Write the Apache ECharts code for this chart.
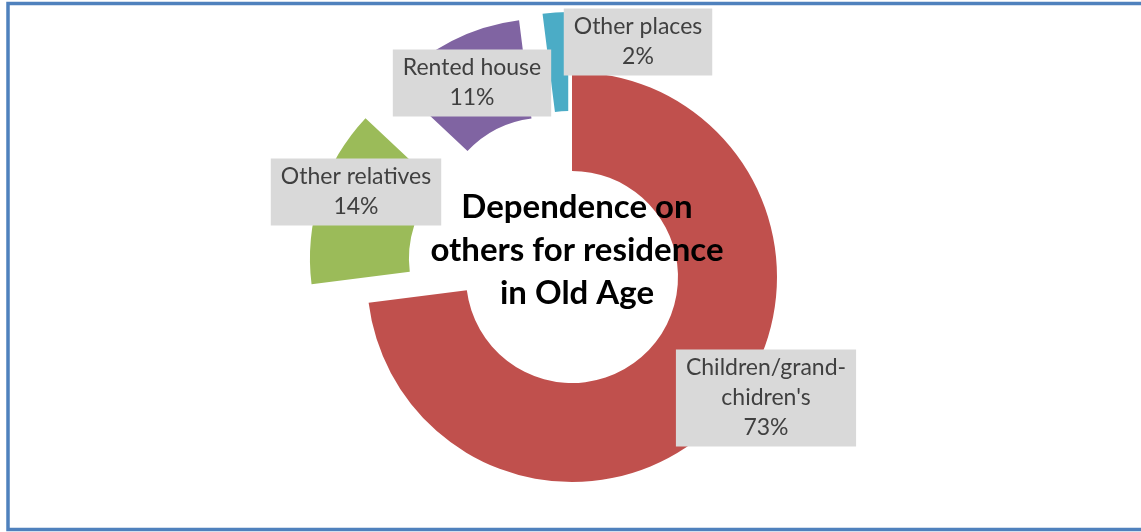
<!DOCTYPE html>
<html>
<head>
<meta charset="utf-8">
<script src="https://cdn.jsdelivr.net/npm/echarts@6/dist/echarts.min.js"></script>
<style>
  html, body { margin: 0; padding: 0; background: #ffffff; }
  #chart { width: 1141px; height: 532px; }
</style>
</head>
<body>
<div id="chart"></div>
<script>
// ---- data ----
const categories = ["Children/grand-\nchidren's", 'Other relatives', 'Rented house', 'Other places'];
const values = [73, 14, 11, 2];
const centerTitle = 'Dependence on\nothers for residence\nin Old Age';

// ---- styling ----
const colors = ['#C0504D', '#9BBB59', '#8064A2', '#4BACC6'];
const exploded = [false, true, true, true];
const labelCenters = [[766, 398], [356, 192], [472, 83], [638, 42]];
const FONT = 'Lato, "Open Sans", sans-serif';
const PIE_CENTER = [572, 277];
const PIE_RADIUS = [106, 205];

const chart = echarts.init(document.getElementById('chart'), null, { renderer: 'canvas' });

const ringData = categories.map((name, i) => ({
  name: name,
  value: values[i],
  selected: exploded[i],
  itemStyle: { color: colors[i] },
  select: { itemStyle: { color: colors[i] } }
}));

const labelData = categories.map((name, i) => ({ name: name, value: values[i] }));

chart.setOption({
  animation: false,
  backgroundColor: '#ffffff',
  graphic: [
    {
      type: 'rect',
      shape: { x: 8, y: 3.5, width: 1300, height: 526 },
      style: { fill: 'none', stroke: '#4F81BD', lineWidth: 3.5 },
      silent: true
    },
    {
      type: 'text',
      x: 577,
      y: 250,
      z: 100,
      silent: true,
      style: {
        text: centerTitle,
        font: 'bold 33px ' + FONT,
        fill: '#000000',
        textAlign: 'center',
        textVerticalAlign: 'middle',
        lineHeight: 43
      }
    }
  ],
  series: [
    {
      type: 'pie',
      center: PIE_CENTER,
      radius: PIE_RADIUS,
      startAngle: 90,
      clockwise: true,
      selectedMode: 'multiple',
      selectedOffset: 60,
      silent: true,
      emphasis: { disabled: true },
      label: { show: false },
      labelLine: { show: false },
      data: ringData
    },
    {
      type: 'pie',
      center: PIE_CENTER,
      radius: PIE_RADIUS,
      startAngle: 90,
      clockwise: true,
      silent: true,
      z: 5,
      emphasis: { disabled: true },
      itemStyle: { color: 'rgba(0,0,0,0)' },
      label: {
        show: true,
        position: 'inside',
        rotate: 0,
        formatter: '{b}\n{d}%',
        color: '#404040',
        fontFamily: FONT,
        fontSize: 23,
        lineHeight: 30,
        align: 'center',
        verticalAlign: 'middle',
        backgroundColor: '#D9D9D9',
        padding: [4, 10, 3, 10]
      },
      labelLine: { show: false },
      labelLayout: function (params) {
        const p = labelCenters[params.dataIndex];
        return { x: p[0], y: p[1], align: 'center', verticalAlign: 'middle' };
      },
      data: labelData
    }
  ]
});
</script>
</body>
</html>
